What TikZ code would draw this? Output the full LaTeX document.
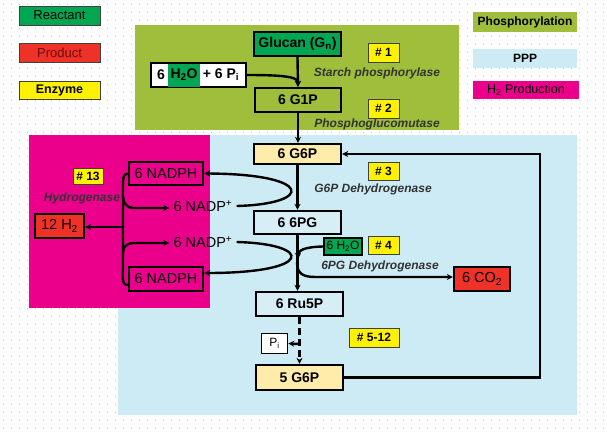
\documentclass[tikz,border=0pt]{standalone}
\usepackage{fontspec}
\setmainfont{Liberation Sans}
\usetikzlibrary{arrows.meta}
\definecolor{rgreen}{RGB}{0,166,81}
\definecolor{rred}{RGB}{238,50,40}
\definecolor{ryellow}{RGB}{255,242,0}
\definecolor{olive}{RGB}{158,190,60}
\definecolor{pppblue}{RGB}{205,235,245}
\definecolor{nodeblue}{RGB}{215,238,247}
\definecolor{magent}{RGB}{235,0,140}
\definecolor{lyellow}{RGB}{255,236,170}
\definecolor{darkred}{RGB}{110,10,10}
\tikzset{
  bx/.style={draw, line width=2.4pt, inner sep=0pt, font=\fontsize{14}{16}\selectfont\bfseries},
  bxr/.style={draw, line width=2.4pt, inner sep=0pt, font=\fontsize{14.5}{16}\selectfont},
  lg/.style={draw=black!75, line width=0.8pt, inner sep=0pt, font=\fontsize{13}{15}\selectfont},
  lgb/.style={inner sep=0pt, font=\fontsize{12}{14}\selectfont\bfseries},
  tag/.style={fill=ryellow, draw=black!75, line width=0.8pt, inner sep=0pt, font=\fontsize{12}{14}\selectfont\bfseries},
  enz/.style={inner sep=0pt, text=black!80, font=\fontsize{12}{14}\selectfont\bfseries\itshape},
  ln/.style={line width=2.4pt},
  arr/.style={line width=2.4pt, -{Stealth[length=6pt,width=6pt]}},
  bgdots/.style={gray!45, line width=1pt, dash pattern=on 1pt off 7pt}
}
\begin{document}
\begin{tikzpicture}[x=1pt,y=-1pt]
\useasboundingbox (0,0) rectangle (607,431);
\fill[white] (0,0) rectangle (607,431);
\foreach \yy in {4,12,...,428} \draw[bgdots] (3,\yy) -- (607,\yy);

% regions
\fill[pppblue] (118,135) rectangle (577,415);
\fill[magent] (29,135) rectangle (210,308);
\fill[olive] (135,25) rectangle (459,130);

% legend
\node[lg, fill=rgreen, minimum width=81pt, minimum height=19pt] (legR) at (59.5,15.5) {Reactant};
\node[lg, fill=rred, text=darkred, minimum width=81pt, minimum height=19pt] (legP) at (59.5,52.5) {Product};
\node[lg, fill=ryellow, minimum width=81pt, minimum height=18pt, font=\fontsize{12.5}{14}\selectfont\bfseries] (legE) at (59.5,90) {Enzyme};
\node[lgb, fill=olive, minimum width=104pt, minimum height=20pt] (legPh) at (525,22) {Phosphorylation};
\node[lgb, fill=pppblue, minimum width=104pt, minimum height=19pt] (legPPP) at (525,58.5) {PPP};
\node[lgb, fill=magent, minimum width=106pt, minimum height=18pt, font=\fontsize{12.5}{14}\selectfont] (legH) at (526,90) {H\textsubscript{2} Production};

% phosphorylation nodes
\node[bx, fill=rgreen, minimum width=87pt, minimum height=24pt] (glucan) at (297.5,44) {Glucan (G\textsubscript{n})};
\node[bx, fill=white, minimum width=95pt, minimum height=24pt] (h2opi) at (198.5,75) {};
\fill[rgreen] (168,63.5) rectangle (200,86.5);
\node[inner sep=0pt, font=\fontsize{14}{16}\selectfont\bfseries] (t6) at (161,75) {6};
\node[inner sep=0pt, font=\fontsize{14}{16}\selectfont\bfseries] (th2o) at (184,75) {H\textsubscript{2}O};
\node[inner sep=0pt, font=\fontsize{14}{16}\selectfont\bfseries] (tpi) at (221,75) {+ 6 P\textsubscript{i}};
\node[bx, fill=olive, minimum width=86pt, minimum height=24pt] (g1p) at (298,100) {6 G1P};
\node[tag, minimum width=31pt, minimum height=19pt] (t1) at (383.5,52.5) {\# 1};
\node[tag, minimum width=31pt, minimum height=19pt] (t2) at (383.5,108.5) {\# 2};
\node[enz] (e1) at (377,73) {Starch phosphorylase};
\node[enz] (e2) at (377,124) {Phosphoglucomutase};

% PPP nodes
\node[bx, fill=lyellow, minimum width=87pt, minimum height=20pt] (g6p) at (297.5,154) {6 G6P};
\node[tag, minimum width=31pt, minimum height=18pt] (t3) at (383.5,171) {\# 3};
\node[enz] (e3) at (373,189) {G6P Dehydrogenase};
\node[bx, fill=nodeblue, minimum width=87pt, minimum height=23pt] (pg) at (297.5,222.5) {6 6PG};
\node[bxr, fill=rgreen, minimum width=38pt, minimum height=17pt, font=\fontsize{12}{14}\selectfont] (h2os) at (343,246.5) {6 H\textsubscript{2}O};
\node[tag, minimum width=31pt, minimum height=18pt] (t4) at (383.5,245) {\# 4};
\node[enz] (e4) at (380,266) {6PG Dehydrogenase};
\node[bxr, fill=rred, minimum width=56pt, minimum height=24pt] (co2) at (482,279) {6 CO\textsubscript{2}};
\node[bx, fill=nodeblue, minimum width=87pt, minimum height=24pt] (ru) at (299.5,304) {6 Ru5P};
\node[draw, line width=1.6pt, fill=white, inner sep=0pt, minimum width=26pt, minimum height=20pt, font=\fontsize{12}{14}\selectfont] (pi) at (274.5,343.5) {P\textsubscript{i}};
\node[tag, minimum width=50pt, minimum height=19pt] (t512) at (374,337.5) {\# 5-12};
\node[bx, fill=lyellow, minimum width=87pt, minimum height=25pt] (g5) at (299.5,377.5) {5 G6P};

% H2 production nodes
\node[bxr, fill=magent, minimum width=74pt, minimum height=23pt] (nadph1) at (166,173.5) {6 NADPH};
\node[bxr, fill=magent, minimum width=74pt, minimum height=24pt] (nadph2) at (166,279) {6 NADPH};
\node[bxr, fill=rred, minimum width=49pt, minimum height=24pt] (h2) at (59.5,226) {12 H\textsubscript{2}};
\node[tag, minimum width=30pt, minimum height=16pt] (t13) at (88,176) {\# 13};
\node[enz] (e13) at (82,198) {Hydrogenase};
\node[inner sep=4pt, font=\fontsize{14.5}{16}\selectfont] (nadp1) at (203,206) {6 NADP\textsuperscript{+}};
\node[inner sep=4pt, font=\fontsize{14.5}{16}\selectfont] (nadp2) at (203,242) {6 NADP\textsuperscript{+}};

% main pathway connectors
\draw[arr] (glucan.south) -- (g1p.north);
\draw[arr] (h2opi.east) .. controls (292,75) and (298,78) .. (g1p.north);
\draw[arr] (g1p.south) -- (g1p.south |- g6p.north);
\draw[arr] (g6p.south) -- (g6p.south |- pg.north);
\draw[arr] (pg.south) -- (pg.south |- ru.north);
\draw[arr, dash pattern=on 7pt off 4pt] (ru.south) -- (g5.north);
\coordinate (pib) at (299,344);
\draw[arr] (pib) -- (pi.east);
\coordinate (fb) at (540,154);
\draw[arr] (g5.east) -| (fb) -- (g6p.east);

% 6PG dehydrogenase side
\coordinate (h2in) at (298,259);
\draw[arr] (h2os.west) .. controls (305,247) and (298,250) .. (h2in);
\coordinate (c1) at (297,262);
\draw[arr] (c1) .. controls (297,274) and (303,277) .. (316,277) -- ([yshift=2pt]co2.west);

% NADP loops
\draw[arr] (nadp1.east) .. controls (314,204) and (314,174) .. (nadph1.east);
\draw[arr] (nadp2.east) .. controls (314,244) and (314,273) .. ([yshift=6pt]nadph2.east);

% hydrogenase brace
\draw[ln] (nadph1.west) to[out=180,in=90] (123,186) -- (123,268) to[out=-90,in=180] ([yshift=-6pt]nadph2.west);
\draw[arr] (123,197) to[out=-90,in=180] (133,208) -- ([yshift=-2pt]nadp1.west);
\draw[arr] (123,252) to[out=90,in=180] (133,243) -- ([yshift=-1pt]nadp2.west);
\coordinate (bt) at (123,227);
\draw[arr] (bt) -- ([yshift=-1pt]h2.east);
\end{tikzpicture}
\end{document}
